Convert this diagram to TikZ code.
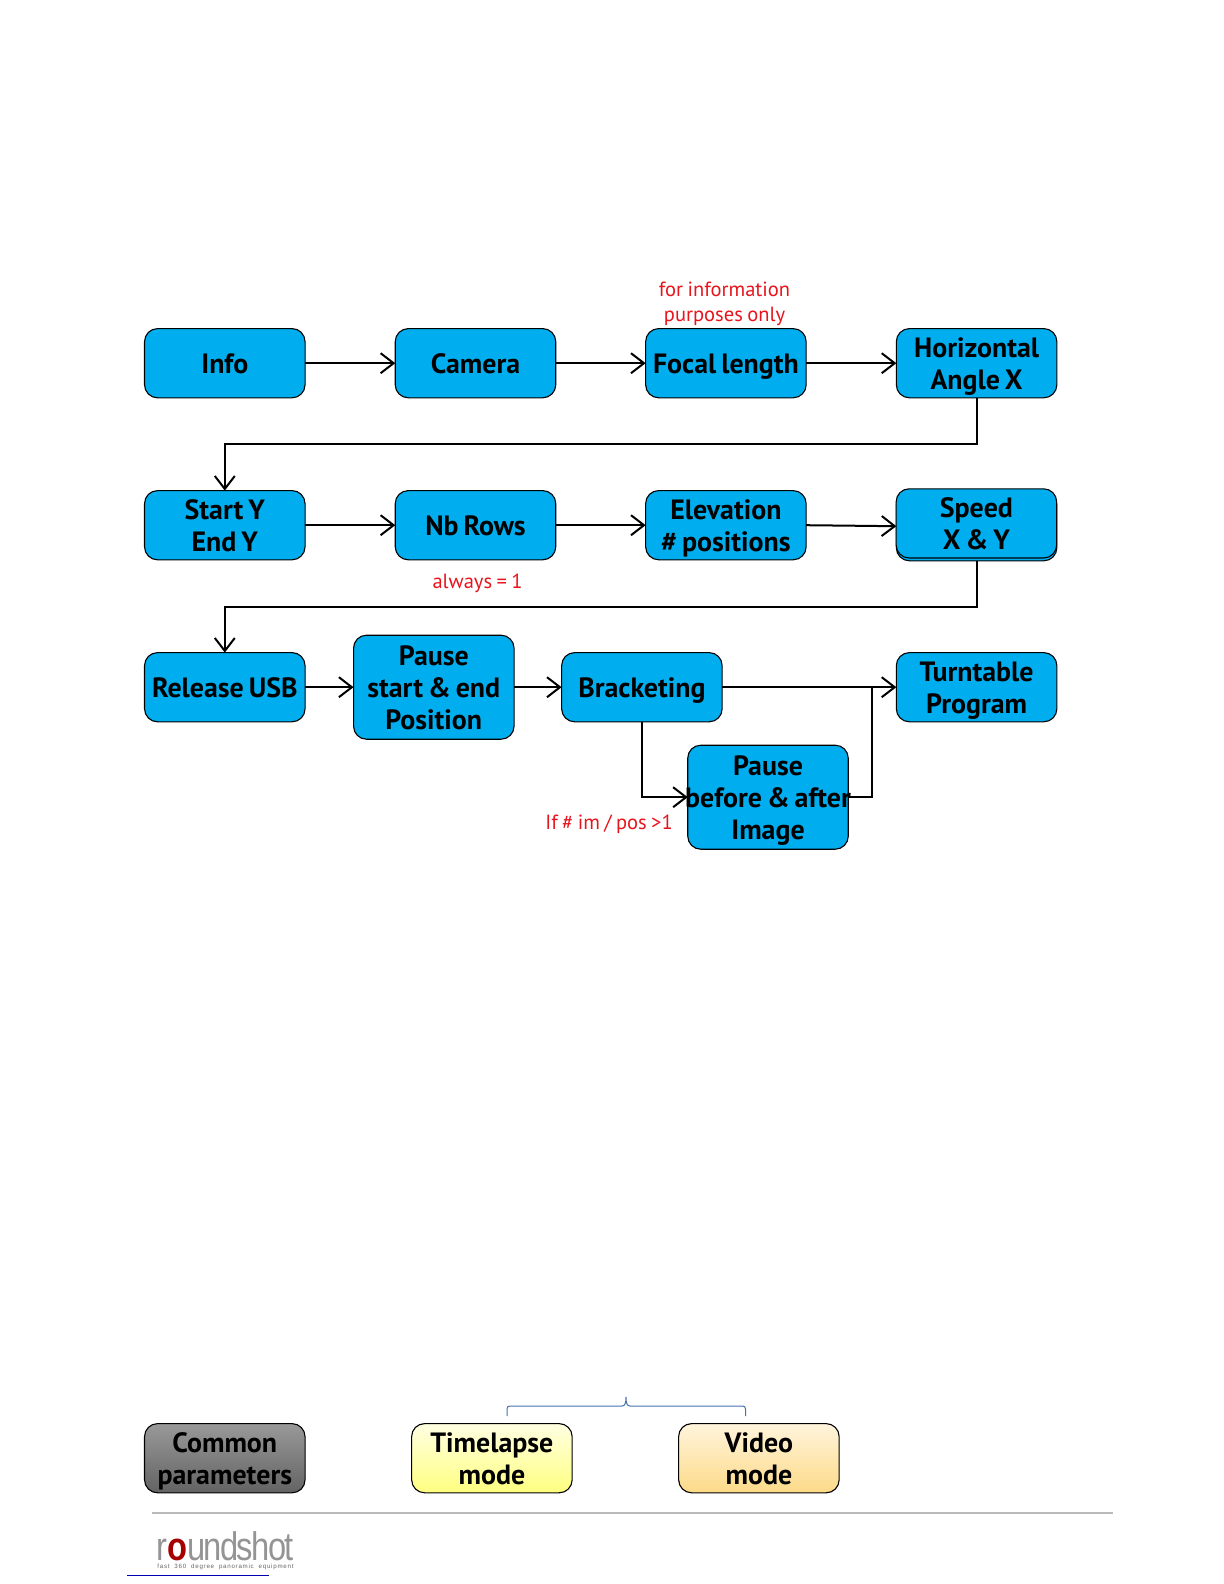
\documentclass[tikz,border=0pt]{standalone}
\usepackage{fontspec}
\usetikzlibrary{arrows.meta}
\setmainfont{PT Sans}
\newfontfamily\logofont{Liberation Sans}
\definecolor{boxblue}{HTML}{00AEEF}
\definecolor{notered}{HTML}{E8141C}
\definecolor{bracecol}{HTML}{4472B0}
\definecolor{videotop}{HTML}{FFF4DC}
\definecolor{videobot}{HTML}{FDDA88}
\definecolor{timetop}{HTML}{FFFFE2}
\definecolor{timebot}{HTML}{FFFF80}
\definecolor{greytop}{HTML}{999999}
\definecolor{greybot}{HTML}{636363}
\newcommand\boxfontcmd{\fontsize{14}{16}\selectfont\bfseries\spaceskip=2.5bp\relax}
\newcommand\notefontcmd{\fontsize{10.3}{12.6}\selectfont\spaceskip=2.2bp\relax}
\newcommand\stt{\vrule width 0pt height 14bp depth 0pt\relax}
\newcommand\stb{\vrule width 0pt height 0pt depth 3.5bp\relax}
\begin{document}
\begin{tikzpicture}[x=0.5bp,y=-0.5bp,
  basebox/.style={draw=black,line width=0.55bp,rounded corners=6.5bp,inner sep=0pt,outer sep=0pt,
    minimum width=80.25bp,minimum height=34.6bp,align=center,
    font=\boxfontcmd,text=black},
  bluebox/.style={basebox,fill=boxblue},
  tallbox/.style={bluebox,minimum height=52bp},
  flow/.style={draw=black,line width=1bp,-{Straight Barb[length=6.5bp,width=10bp,line width=1bp]}},
  plain/.style={draw=black,line width=1bp},
  note/.style={text=notered,font=\notefontcmd,align=center,inner sep=0pt}]
\useasboundingbox (0,0) rectangle (1224,1584);
% row 1
\node[bluebox] (info) at (224.8,363.2) {\stt Info\stb};
\node[bluebox] (camera) at (475.5,363.2) {\stt Camera\stb};
\node[bluebox] (focal) at (725.9,363.2) {\stt Focal length\stb};
\node[bluebox] (horiz) at (976.6,363.2) {\stt Horizontal\\Angle X\stb};
% row 2
\node[bluebox] (start) at (224.8,525.2) {\stt Start Y\\End Y\stb};
\node[bluebox] (rows) at (475.5,525.2) {\stt Nb Rows\stb};
\node[bluebox] (elev) at (725.9,525.2) {\stt Elevation\\\# positions\stb};
\node[bluebox] (speedback) at (976.6,526.2) {};
\node[bluebox] (speed) at (976.4,523.4) {\stt Speed\\X \& Y\stb};
% row 3
\node[bluebox] (release) at (224.8,687.2) {\stt Release USB\stb};
\node[tallbox] (pausea) at (433.8,687.2) {\stt Pause\\start \& end\\Position\stb};
\node[bluebox] (bracket) at (641.9,687.2) {\stt Bracketing\stb};
\node[bluebox] (turn) at (976.6,687.2) {\stt Turntable\\Program\stb};
\node[tallbox] (pauseb) at (768,797.2) {\stt Pause\\\makebox[0pt]{before \& after}\\Image\stb};
% legend
\node[basebox,top color=greytop,bottom color=greybot] (common) at (224.8,1458.2) {\stt Common\\parameters\stb};
\node[basebox,top color=timetop,bottom color=timebot] (timelapse) at (491.9,1458.2) {\stt Timelapse\\mode\stb};
\node[basebox,top color=videotop,bottom color=videobot] (video) at (758.9,1458.2) {\stt Video\\mode\stb};
% notes
\node[note] (noteinfo) at (724.5,303.5) {for information\\purposes only};
\node[note] (notealways) at (477.5,583) {always = 1};
\node[note] (noteif) at (609,824.5) {If \# im / pos >1};
% connectors
\draw[flow] (info) -- (camera);
\draw[flow] (camera) -- (focal);
\draw[flow] (focal) -- (horiz);
\draw[flow] (horiz.south) -- ++(0,45.8) -| (start.north);
\draw[flow] (start) -- (rows);
\draw[flow] (rows) -- (elev);
\draw[flow] (elev.east) -- (speedback.west);
\draw[flow] (speedback.south) -- ++(0,46.5) -| (release.north);
\draw[flow] (release) -- (pausea);
\draw[flow] (pausea) -- (bracket);
\draw[flow] (bracket) -- (turn);
\draw[flow] (bracket.south) |- (pauseb.west);
\coordinate (join) at (872,687.2);
\draw[plain] (pauseb.east) -| (join);
% brace
\coordinate (bl) at (507,1416);
\coordinate (br) at (745.5,1416);
\coordinate (bm) at (626,1397);
\draw[draw=bracecol,line width=0.5bp] (bl) -- (507,1409) .. controls (507,1407) and (508,1406) .. (510,1406)
  -- (622,1406) .. controls (625,1406) and (626,1403) .. (bm)
  .. controls (626,1403) and (627,1406) .. (630,1406) -- (742.5,1406)
  .. controls (744.5,1406) and (745.5,1407) .. (745.5,1409) -- (br);
% footer
\coordinate (ruleL) at (152,1512.7);
\coordinate (ruleR) at (1113,1512.7);
\draw[draw=black!27,line width=0.8bp] (ruleL) -- (ruleR);
\coordinate (linkL) at (127,1575.4);
\coordinate (linkR) at (269,1575.4);
\draw[draw=blue!70!black,line width=0.5bp] (linkL) -- (linkR);
\node[inner sep=0pt,anchor=base west,text=black!42] (logo) at (156,1560)
  {\scalebox{0.82}[1]{\logofont\fontsize{20}{20}\selectfont\addfontfeature{LetterSpace=-5}r\textcolor{red!65!black}{\bfseries o}undshot}};
\node[inner sep=0pt,anchor=base west,text=black!60] (tag) at (157,1568)
  {\logofont\fontsize{3.1}{4}\selectfont\addfontfeature{LetterSpace=12}fast\ \ 360\ \ degree\ \ panoramic\ \ equipment};
\end{tikzpicture}
\end{document}
